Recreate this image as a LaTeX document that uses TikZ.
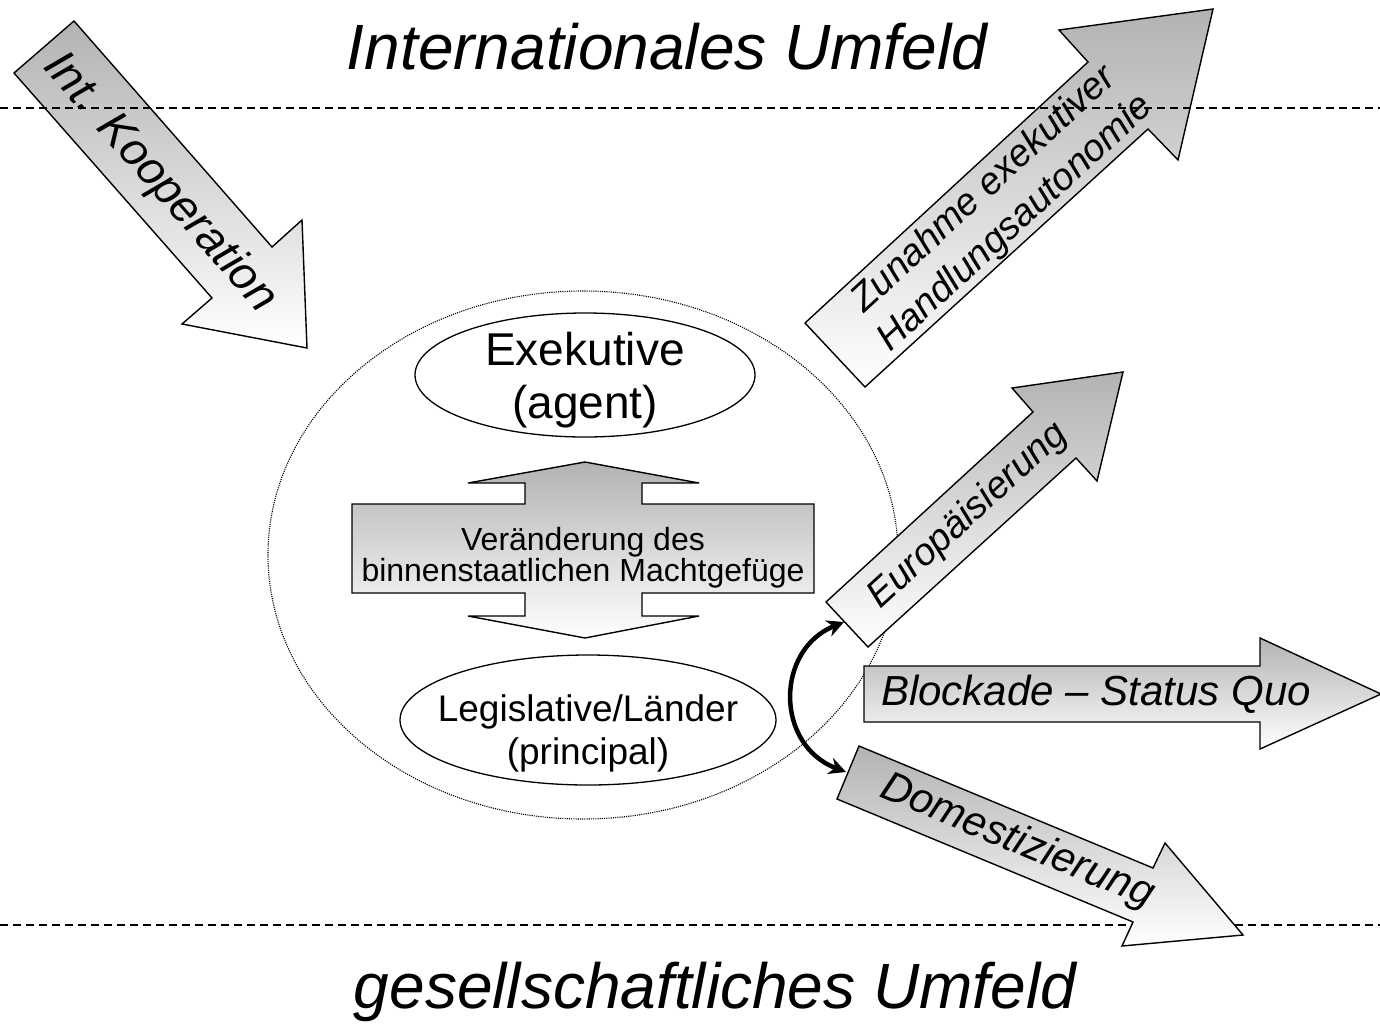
\documentclass[tikz,border=0pt]{standalone}
\usepackage{fontspec}
\setmainfont{Liberation Sans}
\usetikzlibrary{arrows.meta,shapes.geometric}
\definecolor{shadegray}{gray}{0.70}
\newcommand\fsz[2]{\fontsize{#1}{#2}\selectfont}
\begin{document}
\begin{tikzpicture}[x=1pt,y=-1pt,
  blockarrow/.style={draw=black,line width=1.4pt,line join=miter,top color=shadegray,bottom color=white},
  seprule/.style={line width=1.2pt,dash pattern=on 8pt off 5pt},
  plain/.style={inner sep=0pt,align=center},
  oval/.style={draw=black,ellipse,line width=1.3pt,fill=white,inner sep=0pt},
  choicearrow/.style={line width=4.5pt,{Stealth[length=17pt,width=17pt]}-{Stealth[length=17pt,width=17pt]}}
]
\useasboundingbox (0,0) rectangle (1380,1023);
\fill[white] (0,0) rectangle (1380,1023);

% environment ellipse
\node[draw=black,ellipse,line width=1.1pt,dash pattern=on 1.1pt off 1.1pt,minimum width=630pt,minimum height=528pt,inner sep=0pt] (env) at (583,555) {};

% bottom separator
\draw[seprule] (0,925) -- (1380,925);

% Int. Kooperation
\path[blockarrow] (74,21) -- (272,247) -- (302,220) -- (307,348) -- (182,324) -- (212,298) -- (14,73) -- cycle;
\node[plain,font=\fsz{46}{55}\itshape,rotate=-48.7] (koop) at (160,183) {Int. Kooperation};

% Zunahme exekutiver Handlungsautonomie
\path[blockarrow] (805,323) -- (1088,62) -- (1059,30) -- (1213,9) -- (1178,160) -- (1148,129) -- (865,387) -- cycle;
\node[plain,font=\fsz{38}{46}\itshape,rotate=42.6] (zun) at (1000,207) {Zunahme exekutiver\\Handlungsautonomie};

% top separator
\draw[seprule] (0,108) -- (1380,108);

% titles
\node[plain,font=\fsz{64}{70}\itshape,anchor=base] (ttop) at (667,69) {Internationales Umfeld};
\node[plain,font=\fsz{64}{70}\itshape,anchor=base] (tbot) at (715,1008) {gesellschaftliches Umfeld};

% actors
\node[oval,minimum width=340pt,minimum height=124pt] (exe) at (585,375) {};
\node[plain,font=\fsz{46}{53}] (exet) at (585,380) {Exekutive\\(agent)};
\node[oval,minimum width=376pt,minimum height=130pt] (leg) at (588,720) {};
\node[plain,font=\fsz{37}{43}] (legt) at (588,733) {Legislative/Länder\\(principal)};

% double arrow
\path[blockarrow] (352,504) -- (525,504) -- (525,483) -- (468,483) -- (585,462) -- (699,483) -- (642,483) -- (642,504) -- (814,504) -- (814,593) -- (642,593) -- (642,616) -- (699,616) -- (585,638) -- (468,616) -- (525,616) -- (525,593) -- (352,593) -- cycle;
\node[plain,font=\fsz{32}{29}] (macht) at (583,558) {Veränderung des\\binnenstaatlichen Machtgefüge};

% Europäisierung
\path[blockarrow] (826,602) -- (1033,412) -- (1012,388) -- (1123,372) -- (1097,481) -- (1076,458) -- (868,647) -- cycle;
\node[plain,font=\fsz{38}{46}\itshape,rotate=42.5] (eu) at (968,516) {Europäisierung};

% Blockade
\path[blockarrow] (864,666) -- (1260,666) -- (1260,638) -- (1381,694) -- (1260,749) -- (1260,722) -- (864,722) -- cycle;
\node[plain,font=\fsz{42}{48}\itshape] (block) at (1096,694) {Blockade – Status Quo};

% Domestizierung
\path[blockarrow] (859,746) -- (1153,868) -- (1165,843) -- (1243,935) -- (1122,946) -- (1133,922) -- (837,799) -- cycle;
\node[plain,font=\fsz{42}{50}\itshape,rotate=-22.5] (dom) at (1017,842) {Domestizierung};

% choice arrow
\coordinate (euT) at (844,622);
\coordinate (domT) at (846,772);
\draw[choicearrow] (domT) .. controls (775,745) and (775,650) .. (euT);
\end{tikzpicture}
\end{document}
